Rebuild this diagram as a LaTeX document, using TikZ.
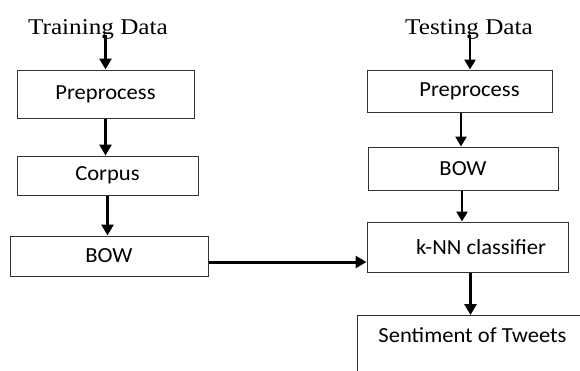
\documentclass[tikz,border=0pt]{standalone}
\usepackage{fontspec}
\setmainfont{Carlito}
\newfontfamily\titlefont[FakeStretch=1.12]{Liberation Serif}
\newfontfamily\boxfont[FakeStretch=1.05]{Carlito}
\usetikzlibrary{arrows.meta}
\begin{document}
\begin{tikzpicture}[x=1pt,y=-1pt,
  box/.style={draw=black!80,line width=1pt,rectangle,inner sep=0pt,
    font=\boxfont\fontsize{21.5}{25}\selectfont,text=black},
  ttl/.style={inner sep=0pt,font=\titlefont\fontsize{22.5}{26}\selectfont,anchor=base},
  arr/.style={line width=3pt,-{Triangle[width=12pt,length=11pt]}},
  arrR/.style={line width=2.6pt,-{Triangle[width=11pt,length=10pt]}}]
\clip (0,0) rectangle (580,370);
\fill[white] (0,0) rectangle (580,370);
% titles
\node[ttl] (td1) at (98,34) {Training Data};
\node[ttl] (td2) at (469,34) {Testing Data};
% left column
\node[box,minimum width=177pt,minimum height=48pt] (pre1) at (105.5,94) {Preprocess};
\node[box,minimum width=181pt,minimum height=39pt] (corp) at (107.5,175.5) {Corpus};
\node[box,minimum width=198pt,minimum height=40pt] (bow1) at (109,256) {BOW};
% right column
\node[box,minimum width=185pt,minimum height=42pt] (pre2) at (459.5,91) {\hspace*{20pt}Preprocess};
\node[box,minimum width=190pt,minimum height=43pt] (bow2) at (463,168.5) {BOW};
\node[box,minimum width=201pt,minimum height=50pt] (knn) at (467.5,247) {\hspace*{27pt}k-NN classifier};
\node[box,anchor=north west,minimum width=230pt,inner ysep=0pt,
  text height=27pt,text depth=50pt] (sent) at (357,315) {Sentiment of Tweets};
% connectors
\draw[arr] ([yshift=4pt]td1.south -| pre1.north) -- (pre1.north);
\draw[arr] (pre1.south) -- (pre1.south |- corp.north);
\draw[arr] (corp.south) -- (corp.south |- bow1.north);
\draw[arr] ([yshift=-6pt]bow1.east) -- ([yshift=-6pt]bow1.east -| knn.west);
\draw[arrR] ([xshift=10.5pt,yshift=4pt]td2.south -| pre2.north) -- ([xshift=10.5pt]pre2.north);
\draw[arrR] ([xshift=1.5pt]pre2.south) -- ([xshift=1.5pt]pre2.south |- bow2.north);
\draw[arrR] ([xshift=-1pt]bow2.south) -- ([xshift=-1pt]bow2.south |- knn.north);
\draw[arr] ([xshift=3pt]knn.south) -- ([xshift=3pt]knn.south |- sent.north);
\end{tikzpicture}
\end{document}
